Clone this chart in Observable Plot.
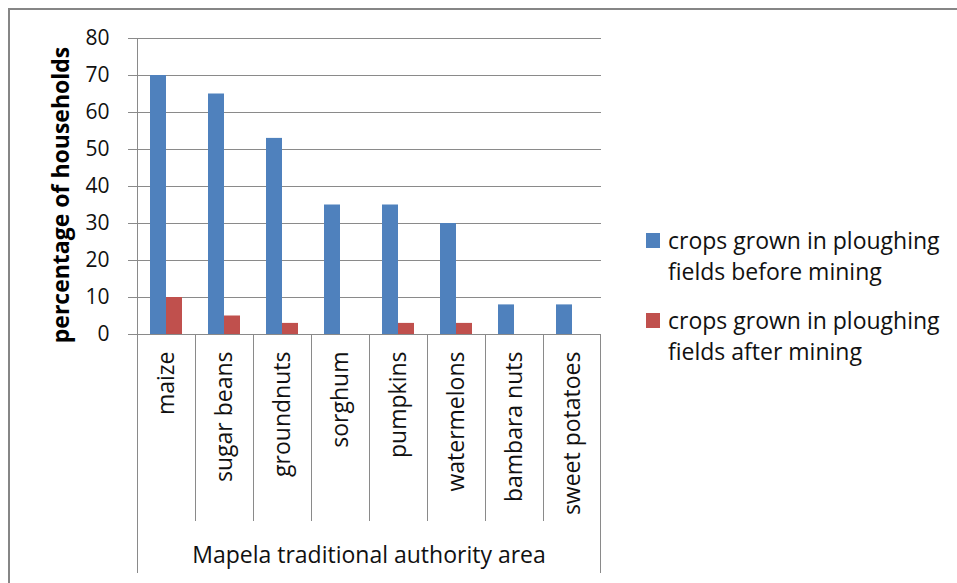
<!DOCTYPE html>
<html>
<head>
<meta charset="utf-8">
<script src="https://cdn.jsdelivr.net/npm/d3@7"></script>
<script src="https://cdn.jsdelivr.net/npm/@observablehq/plot@0.6"></script>
<style>
  body { margin: 0; background: #fff; font-family: "Open Sans", sans-serif; }
  #wrap { position: relative; width: 957px; height: 583px; overflow: hidden; background: #fff; }
  #frame { position: absolute; left: 8px; top: 8px; width: 1000px; height: 1000px;
           border-left: 2px solid #868686; border-top: 2px solid #868686; pointer-events: none; }
  #chart { position: absolute; left: 0; top: 0; }
  .leg { position: absolute; left: 646px; font-family: "Open Sans", sans-serif; font-size: 23px;
         line-height: 31px; color: #111; }
  .leg .sw { position: absolute; left: 0; top: 8px; width: 14px; height: 15px; }
  .leg .tx { position: absolute; left: 22px; top: 0; white-space: nowrap; }
</style>
</head>
<body>
<div id="wrap">
  <div id="chart"></div>
  <div id="frame"></div>
</div>
<script>
const categories = ["maize", "sugar beans", "groundnuts", "sorghum", "pumpkins", "watermelons", "bambara nuts", "sweet potatoes"];
const beforeMining = [70, 65, 53, 35, 35, 30, 8, 8];
const afterMining = [10, 5, 3, 0, 3, 3, 0, 0];
const seriesNames = ["crops grown in ploughing fields before mining", "crops grown in ploughing fields after mining"];
const legendLines = [["crops grown in ploughing", "fields before mining"], ["crops grown in ploughing", "fields after mining"]];
const seriesColors = ["#4F81BD", "#C0504D"];
const yTicks = [0, 10, 20, 30, 40, 50, 60, 70, 80];
const yTitle = "percentage of households";
const xTitle = "Mapela traditional authority area";

const data = categories.flatMap((c, i) => [
  {category: c, series: seriesNames[0], value: beforeMining[i]},
  {category: c, series: seriesNames[1], value: afterMining[i]}
]);

const gray = "#8a8a8a";
const font = "'Open Sans', sans-serif";

const plot = Plot.plot({
  width: 957,
  height: 583,
  marginLeft: 134,
  marginRight: 353,
  marginTop: 38,
  marginBottom: 249,
  style: {fontFamily: font, fontSize: "21px", color: "#111", background: "transparent", overflow: "visible"},
  fx: {domain: categories, padding: 0, label: null, axis: null},
  x: {domain: seriesNames, paddingInner: 0, paddingOuter: 0.8, axis: null},
  y: {domain: [0, 80], label: null, axis: null},
  color: {domain: seriesNames, range: seriesColors},
  marks: [
    Plot.gridY(yTicks, {stroke: gray, strokeOpacity: 1}),
    Plot.axisY(yTicks, {tickSize: 9, tickPadding: 19, stroke: gray, label: null, fontSize: 21}),
    Plot.axisFx({anchor: "bottom", tickSize: 0, tickRotate: -90, tickPadding: 17, label: null, fontSize: 23}),
    Plot.barY(data, {fx: "category", x: "series", y: "value", fill: "series"})
  ]
});
document.getElementById("chart").appendChild(plot);

// decorations using the plot's own scales
const fx = plot.scale("fx");
const ys = plot.scale("y");
const svg = d3.select(plot);
const y0 = ys.apply(0);
const yTop = ys.apply(80);
const left = fx.apply(categories[0]);
const right = fx.apply(categories[categories.length - 1]) + fx.bandwidth;
const g = svg.append("g").attr("stroke", gray).attr("stroke-width", 1);
categories.slice(1).forEach(c => {
  const x = Math.round(fx.apply(c)) + 0.5;
  g.append("line").attr("x1", x).attr("x2", x).attr("y1", y0).attr("y2", y0 + 187);
});
g.append("line").attr("x1", Math.round(left) + 0.5).attr("x2", Math.round(left) + 0.5).attr("y1", yTop).attr("y2", y0 + 239);
g.append("line").attr("x1", Math.round(right) - 0.5).attr("x2", Math.round(right) - 0.5).attr("y1", y0).attr("y2", y0 + 239);

svg.append("text")
  .attr("x", (left + right) / 2).attr("y", y0 + 229)
  .attr("text-anchor", "middle").attr("fill", "#111")
  .style("font-family", font).style("font-size", "23px")
  .text(xTitle);

svg.append("text")
  .attr("transform", `translate(${left - 68},${(yTop + y0) / 2 + 9}) rotate(-90)`)
  .attr("text-anchor", "middle").attr("fill", "#000")
  .style("font-family", font).style("font-size", "23px").style("font-weight", "bold")
  .text(yTitle);

// legend
const wrap = document.getElementById("wrap");
const legTops = [225, 305];
seriesNames.forEach((s, i) => {
  const d = document.createElement("div");
  d.className = "leg";
  d.style.top = legTops[i] + "px";
  d.innerHTML = `<div class="sw" style="background:${seriesColors[i]}"></div><div class="tx">${legendLines[i].join("<br>")}</div>`;
  wrap.appendChild(d);
});
</script>
</body>
</html>
